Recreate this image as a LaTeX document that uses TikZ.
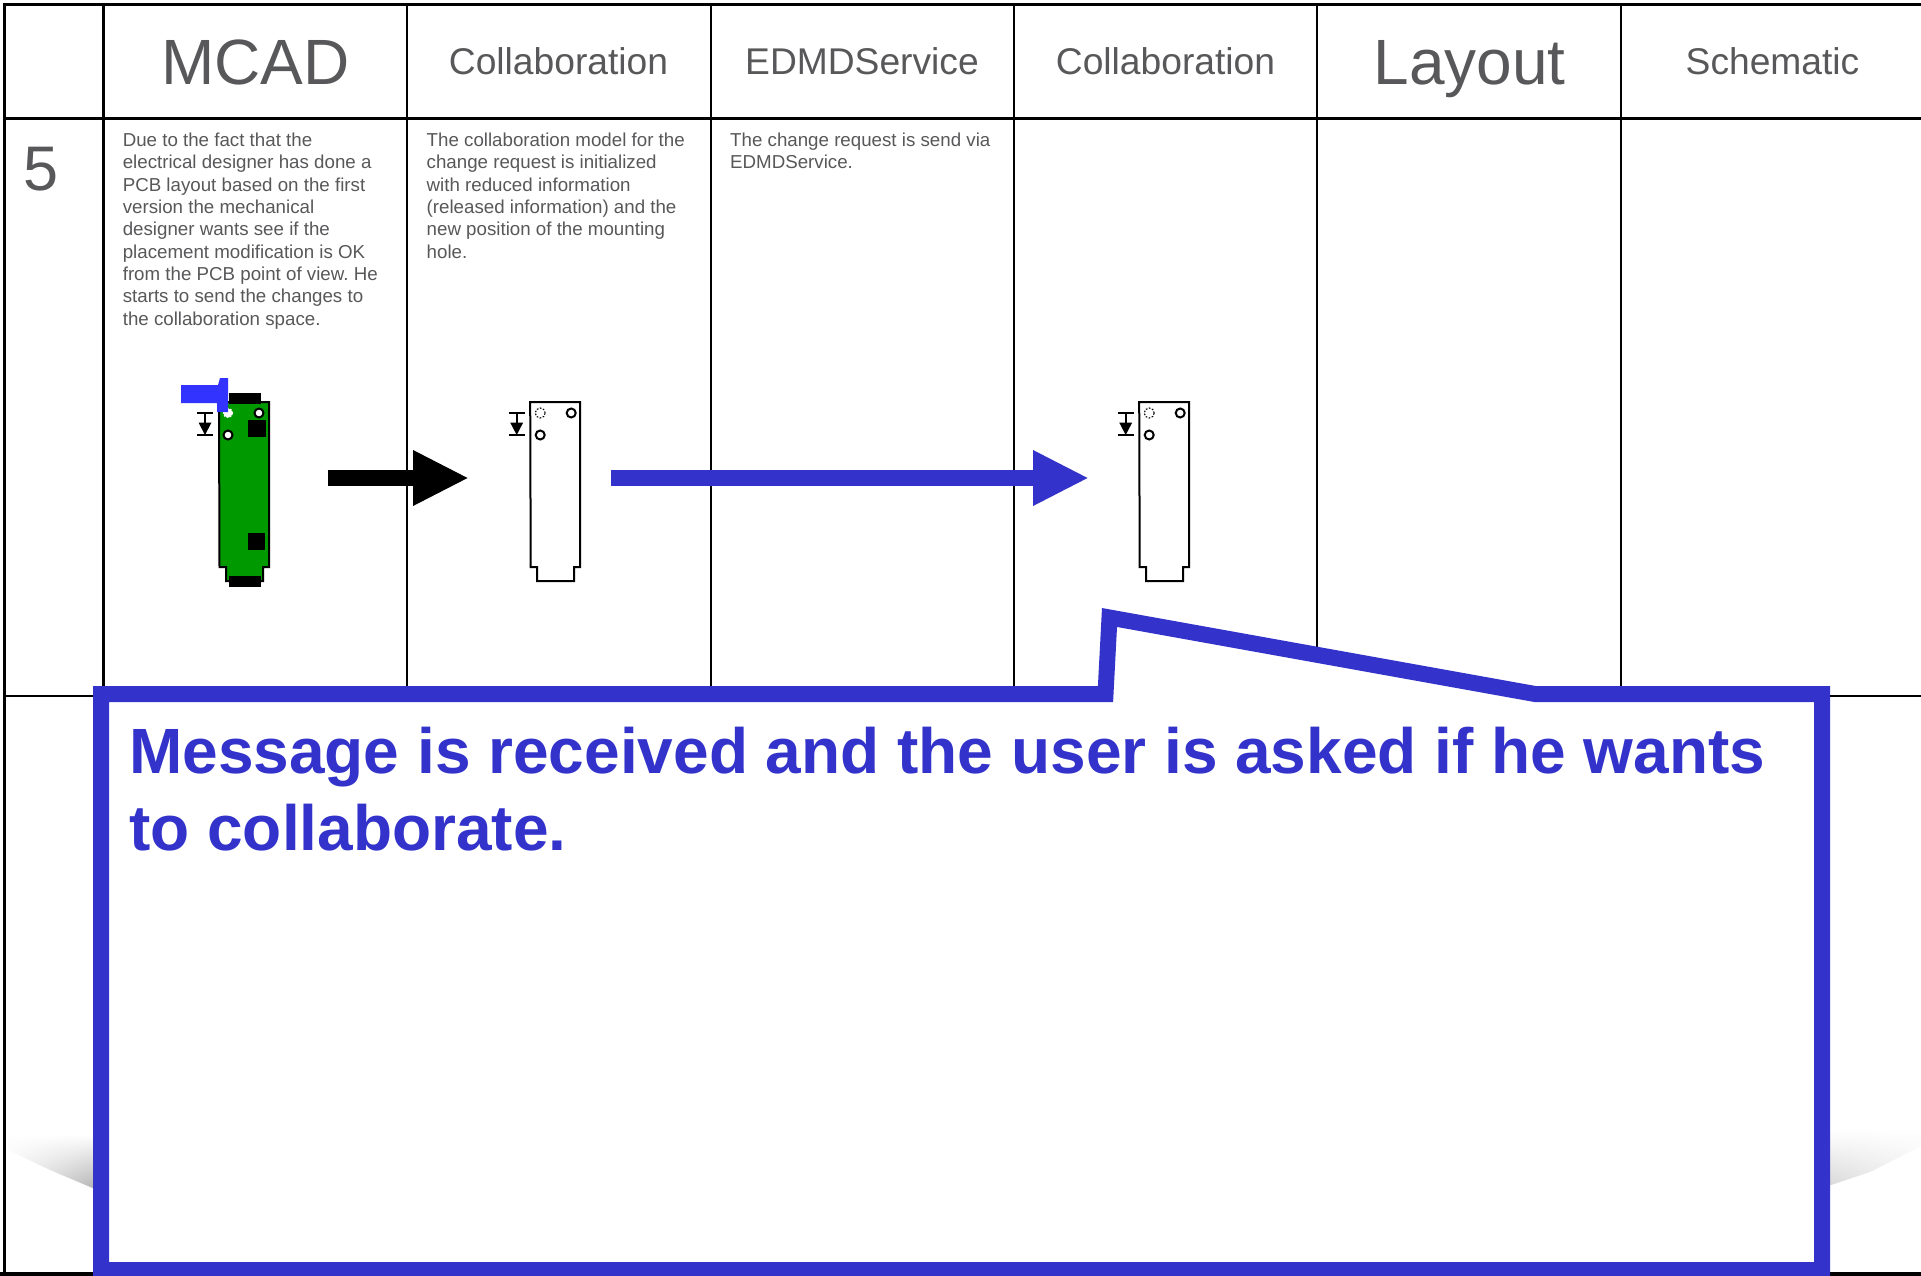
\documentclass[tikz,border=0pt]{standalone}
\usepackage{fontspec}
\setmainfont{Liberation Sans}
\usetikzlibrary{arrows.meta,fadings,shadings}
\definecolor{txt}{HTML}{58585A}
\definecolor{callblue}{HTML}{3333CC}
\definecolor{pcbgreen}{HTML}{009900}
\definecolor{handblue}{HTML}{3333FF}
\tikzset{
 gridline/.style={draw=black,line width=2.7pt},
 headtxt/.style={text=txt,anchor=base,font=\fontsize{37.2}{37}\selectfont},
 headbig/.style={text=txt,anchor=base,font=\fontsize{64}{64}\selectfont},
 bodytxt/.style={text=txt,anchor=north west,align=left,inner sep=0pt,font=\frenchspacing\fontsize{18.72}{22.35}\selectfont},
 board/.style={draw=black,line width=2pt,line join=miter},
 hole/.style={draw=black,fill=white,line width=2pt,circle,minimum size=9pt,inner sep=0pt,outer sep=0pt},
 dashhole/.style={draw=black,dash pattern=on 1.6pt off 1.6pt,line width=1.1pt,circle,minimum size=10pt,inner sep=0pt,outer sep=0pt},
 fatarrow/.style={line width=16pt,-{Triangle[length=56pt,width=51.5pt]}},
 blackbox/.style={fill=black,draw=none},
 mark symbol/.pic={
   \draw[black,line width=1.7pt] (-8,-11)--(8,-11) (-8,11)--(8,11) (0,-11)--(0,0);
   \fill[black] (-6.5,-1.5)--(6.5,-1.5)--(0,11)--cycle;
 },
 plain board/.pic={
   \draw[board,fill=white] (0,0)--(50,0)--(50,165)--(44,165)--(44,179)--(7,179)--(7,165)--(0.5,165)--cycle;
   \node[dashhole] (-dh) at (10,11) {};
   \node[hole] (-h1) at (41,11) {};
   \node[hole] (-h2) at (10,33) {};
   \pic at (-13.5,22) {mark symbol};
 }
}
\begin{document}
\begin{tikzpicture}[x=1pt,y=-1pt]
\useasboundingbox (0,0) rectangle (1921,1276);
\fill[white] (0,0) rectangle (1921,1276);
% shadows
\shade[left color=black!4,right color=black!30,path fading=north] (8,1150) -- (50,1170) -- (95,1189) -- (95,1135) -- (8,1135) -- cycle;
\shade[right color=black!5,left color=black!15,path fading=north] (1828,1186) -- (1870,1172) -- (1921,1146) -- (1921,1130) -- (1828,1130) -- cycle;
% frame
\draw[black,line width=3pt] (4.8,1276)--(4.8,4.6)--(1921,4.6);
\draw[black,line width=4pt] (0,1274)--(1921,1274);
\foreach \x in {103.8,407,711,1014,1317,1621}{\draw[gridline] (\x,4)--(\x,696);}
\draw[gridline] (4,118.5)--(1921,118.5);
\draw[gridline] (4,696)--(1921,696);
% headers
\node[headbig] (h1) at (255.5,85) {MCAD};
\node[headtxt] (h2) at (558.5,74.5) {Collaboration};
\node[headtxt] (h3) at (862,74.5) {EDMDService};
\node[headtxt] (h4) at (1165.5,74.5) {Collaboration};
\node[headbig] (h5) at (1469.5,85) {Layout};
\node[headtxt] (h6) at (1772.5,74.5) {Schematic};
\node[text=txt,anchor=base,font=\fontsize{63}{63}\selectfont] (n5) at (40.6,190.7) {5};
% body
\node[bodytxt] (t1) at (122.6,132.7) {Due to the fact that the\\electrical designer has done a\\PCB layout based on the first\\version the mechanical\\designer wants see if the\\placement modification is OK\\from the PCB point of view. He\\starts to send the changes to\\the collaboration space.};
\node[bodytxt] (t2) at (426.5,132.7) {The collaboration model for the\\change request is initialized\\with reduced information\\(released information) and the\\new position of the mounting\\hole.};
\node[bodytxt] (t3) at (730,132.7) {The change request is send via\\EDMDService.};
% PCB
\draw[board,fill=pcbgreen] (219,402)--(269,402)--(269,567)--(263,567)--(263,581)--(226,581)--(226,567)--(219.5,567)--cycle;
\fill[blackbox] (229,393) rectangle (261,404);
\fill[blackbox] (229,576) rectangle (261,587);
\fill[blackbox] (248,420) rectangle (266,437);
\fill[blackbox] (248,533) rectangle (265,550);
\node[draw=white,dash pattern=on 1.6pt off 1.6pt,fill=white,line width=1.2pt,circle,minimum size=9pt,inner sep=0pt,outer sep=0pt] (p0) at (228,413) {};
\node[hole] (p1) at (259,413) {};
\node[hole] (p2) at (228,435) {};
\pic at (205,424) {mark symbol};
\fill[handblue] (181,385)--(218,385)--(220,378)--(228,378)--(228,412)--(217,412)--(217,403)--(181,403)--cycle;
% boards
\pic (b1) at (530.2,402) {plain board};
\pic (b2) at (1139.2,402) {plain board};
% arrows
\coordinate (a1s) at (327.7,478);
\coordinate (a1e) at (469,478);
\coordinate (a2s) at (611,478);
\coordinate (a2e) at (1089,478);
\draw[fatarrow,black] (a1s)--(a1e);
\draw[fatarrow,callblue] (a2s)--(a2e);
% callout
\draw[callblue,fill=white,line width=16pt,miter limit=10] (101,694)--(1105.5,694)--(1109.5,617.5)--(1535,694)--(1822,694)--(1822,1270)--(101,1270)--cycle;
\node[text=callblue,anchor=north west,align=left,inner sep=0pt,font=\bfseries\fontsize{64}{77}\selectfont] (msg) at (129,727) {Message is received and the user is asked if he wants\\to collaborate.};
\end{tikzpicture}
\end{document}
